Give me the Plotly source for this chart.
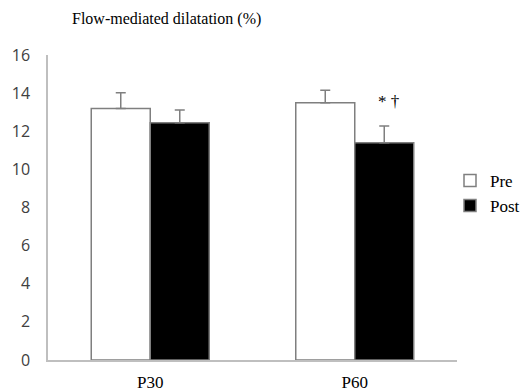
import plotly.graph_objects as go

categories = ["P30", "P60"]
pre_values = [13.2, 13.5]
pre_errors = [0.82, 0.65]
post_values = [12.45, 11.4]
post_errors = [0.67, 0.88]
y_ticks = [0, 2, 4, 6, 8, 10, 12, 14, 16]
title_text = "Flow-mediated dilatation (%)"
sig_text = "* †"

serif = "Liberation Serif, Times New Roman, serif"
sans = "Open Sans, Liberation Sans, sans-serif"

fig = go.Figure()
fig.add_trace(go.Bar(
    x=categories, y=pre_values, name="Pre",
    marker=dict(color="white", line=dict(color="#7f7f7f", width=1.5)),
    error_y=dict(type="data", symmetric=False, array=pre_errors,
                 arrayminus=[0, 0], color="#7f7f7f", thickness=1.5, width=5),
))
fig.add_trace(go.Bar(
    x=categories, y=post_values, name="Post",
    marker=dict(color="black", line=dict(color="#7f7f7f", width=1.5)),
    error_y=dict(type="data", symmetric=False, array=post_errors,
                 arrayminus=[0, 0], color="#7f7f7f", thickness=1.5, width=5),
))

fig.add_annotation(x=categories[1], y=post_values[1] + post_errors[1] + 1.3,
                   text=sig_text, showarrow=False, xshift=34,
                   font=dict(family=serif, size=17, color="black"))

W_AX = 409.0
W_PAPER = 472.0

fig.update_layout(
    width=520, height=392,
    margin=dict(l=48, r=0, t=55, b=32, autoexpand=False),
    paper_bgcolor="white", plot_bgcolor="white",
    title=dict(text=title_text, xref="container", yref="container",
               x=72 / 520, y=1 - 18 / 392, xanchor="left", yanchor="middle",
               font=dict(family=serif, size=16, color="black")),
    barmode="group", bargap=0.423, bargroupgap=0,
    showlegend=True,
    legend=dict(x=(450 - 48) / W_PAPER, y=0.546, xanchor="left", yanchor="middle",
                font=dict(family=serif, size=17, color="black"),
                bgcolor="rgba(0,0,0,0)", tracegroupgap=0),
    xaxis=dict(domain=[0, W_AX / W_PAPER], automargin=False,
               showline=True, linecolor="#bfbfbf", linewidth=1.5,
               showgrid=False, ticks="", ticklabelstandoff=6,
               tickfont=dict(family=serif, size=17, color="black")),
    yaxis=dict(range=[0, 16], tickvals=y_ticks, showline=True, automargin=False,
               linecolor="#bfbfbf", linewidth=1.5, showgrid=False,
               zeroline=False, ticks="", ticklabelstandoff=13,
               tickfont=dict(family=sans, size=16, color="#404040")),
)

# remove the browser's default 8px page margin so the figure fills the window
fig.write_html("out.html", config={"displayModeBar": False},
               post_script="document.body.style.margin='0px';")
